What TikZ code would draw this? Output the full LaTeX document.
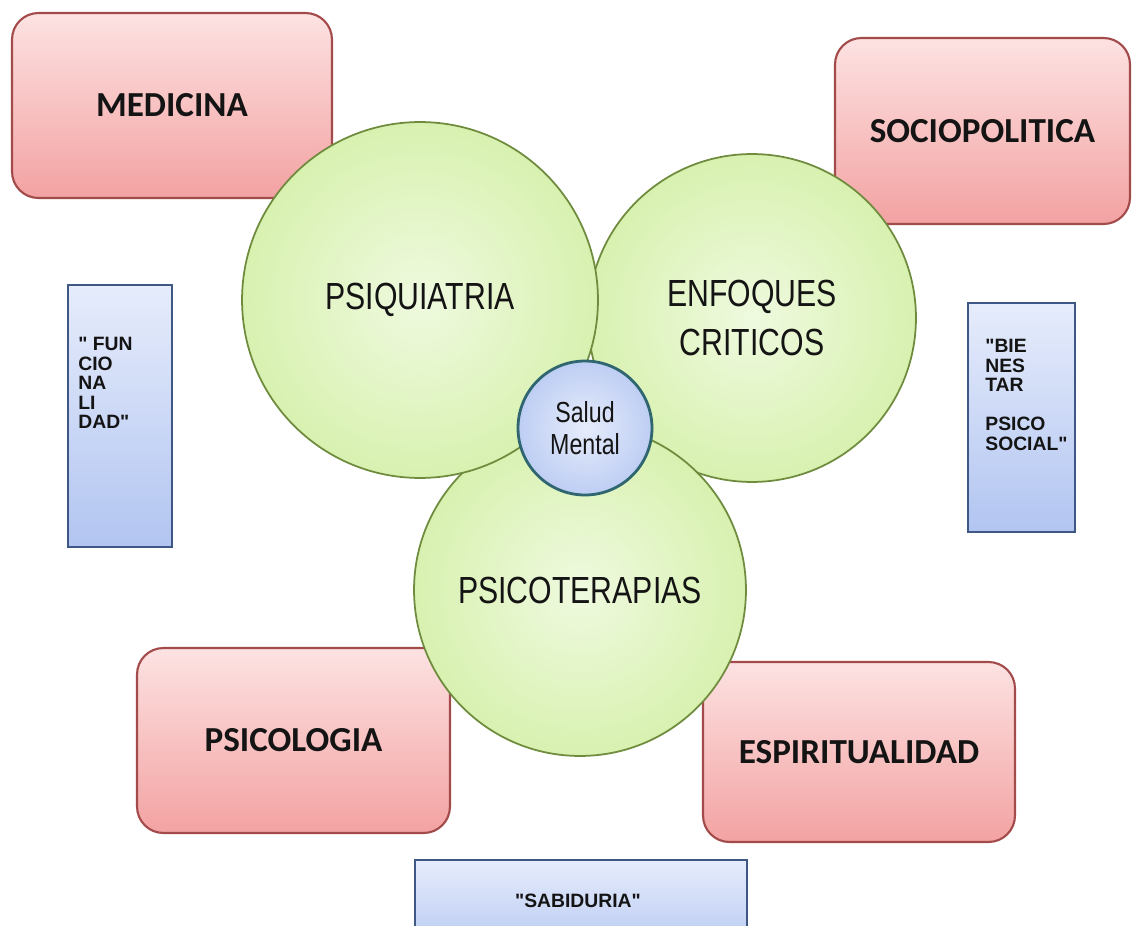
\documentclass[tikz,border=0pt]{standalone}
\usepackage{fontspec}
\setmainfont{Liberation Sans}
\newfontfamily\cajafont{Carlito}
\newfontfamily\circfont[FakeStretch=0.8]{Liberation Sans}
\usetikzlibrary{positioning}
\definecolor{rojoborde}{HTML}{A34A4A}
\definecolor{rojoarriba}{HTML}{FDE2E2}
\definecolor{rojoabajo}{HTML}{F3A2A2}
\definecolor{azulborde}{HTML}{3E5784}
\definecolor{azularriba}{HTML}{E6ECFB}
\definecolor{azulabajo}{HTML}{B2C5F1}
\definecolor{verdeborde}{HTML}{6F8C3E}
\definecolor{verdeclaro}{HTML}{EFFADF}
\definecolor{verde}{HTML}{D8F1B0}
\definecolor{saludborde}{HTML}{2F6670}
\definecolor{texto}{HTML}{141414}
\newcommand{\cq}{\textquotedbl}
\tikzset{
	cajaroja/.style={draw=rojoborde, line width=1.2pt, rounded corners=15pt,
		top color=rojoarriba, bottom color=rojoabajo, text=texto,
		font=\cajafont\bfseries\fontsize{20}{24}\selectfont},
	cajaazul/.style={draw=azulborde, line width=1.1pt,
		top color=azularriba, bottom color=azulabajo},
	textoazul/.style={inner sep=0pt, align=left, text=texto,
		font=\bfseries\fontsize{11}{11.1}\selectfont},
	circulo/.style={circle, draw=verdeborde, line width=1pt,
		inner color=verdeclaro, outer color=verde, text=texto,
		align=center, font=\circfont\fontsize{21.5}{24}\selectfont},
	salud/.style={circle, draw=saludborde, line width=1.6pt,
		inner color=azularriba, outer color=azulabajo!85, text=texto,
		align=center, font=\circfont\fontsize{16.5}{18.5}\selectfont}
}
\begin{document}
\begin{tikzpicture}[x=0.02cm, y=-0.02cm]
	\useasboundingbox (0,0) rectangle (1133,926);
	\clip (0,0) rectangle (1133,926);
	\fill[white] (0,0) rectangle (1133,926);

	% cajas rojas
	\node[cajaroja, minimum width=6.4cm, minimum height=3.7cm] (medicina) at (172,105.5) {MEDICINA};
	\node[cajaroja, minimum width=5.9cm, minimum height=3.72cm] (socio) at (982.5,131) {SOCIOPOLITICA};
	\node[cajaroja, minimum width=6.26cm, minimum height=3.7cm] (psicologia) at (293.5,740.5) {PSICOLOGIA};
	\node[cajaroja, minimum width=6.24cm, minimum height=3.6cm] (espiritu) at (859,752) {ESPIRITUALIDAD};

	% cajas azules
	\node[cajaazul, minimum width=2.08cm, minimum height=5.24cm] (funcion) at (120,416) {};
	\node[textoazul, anchor=north west] (funciontxt) at (78,337) {\cq\ FUN\\ CIO\\ NA\\ LI\\ DAD\cq};
	\node[cajaazul, minimum width=2.14cm, minimum height=4.58cm] (bienestar) at (1021.5,417.5) {};
	\node[textoazul, anchor=north west] (bienestartxt) at (985,339) {\cq BIE\\ NES\\ TAR\\[11.1pt] PSICO\\ SOCIAL\cq};
	\node[cajaazul, minimum width=6.64cm, minimum height=2cm] (sabiduria) at (581,910) {};
	\node[textoazul] (sabiduriatxt) at (578,901) {\cq SABIDURIA\cq};

	% circulos
	\node[circulo, minimum size=6.56cm] (enfoques) at (752,318) {ENFOQUES\\[4pt] CRITICOS};
	\node[circulo, minimum size=6.64cm] (psicoterapias) at (580,590) {PSICOTERAPIAS};
	\node[circulo, minimum size=7.12cm] (psiquiatria) at (420,300) {PSIQUIATRIA};
	\node[salud, minimum size=2.68cm] (saludmental) at (585,428) {Salud\\ Mental};
\end{tikzpicture}
\end{document}
